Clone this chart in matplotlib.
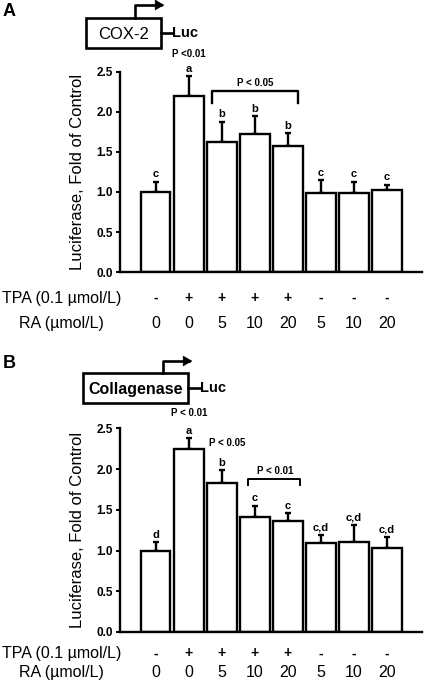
import matplotlib
matplotlib.use("Agg")
import matplotlib.pyplot as plt
import numpy as np
from matplotlib.patches import Rectangle, FancyArrowPatch

plt.rcParams['font.family'] = ['Liberation Sans', 'DejaVu Sans']

tpa_labels = ['-', '+', '+', '+', '+', '-', '-', '-']
ra_labels = ['0', '0', '5', '10', '20', '5', '10', '20']

cox2_values = [1.00, 2.20, 1.63, 1.72, 1.575, 0.99, 0.99, 1.02]
cox2_err = [0.13, 0.25, 0.25, 0.23, 0.16, 0.16, 0.14, 0.07]
cox2_letters = ['c', 'a', 'b', 'b', 'b', 'c', 'c', 'c']

coll_values = [1.00, 2.25, 1.83, 1.41, 1.365, 1.095, 1.11, 1.03]
coll_err = [0.10, 0.13, 0.16, 0.14, 0.095, 0.10, 0.20, 0.135]
coll_letters = ['d', 'a', 'b', 'c', 'c', 'c,d', 'c,d', 'c,d']

W, H = 427, 691
fig = plt.figure(figsize=(W / 100, H / 100), dpi=100)


def fx(px):
    return px / W


def fy(py):
    return 1 - py / H


def panel(rect, values, errs, letters, row1, row2):
    ax = fig.add_axes(rect)
    x = np.arange(len(values))
    ax.bar(x, values, width=0.88, color='white', edgecolor='black', linewidth=1.7, zorder=2)
    ax.errorbar(x, values, yerr=[np.zeros(len(errs)), errs], fmt='none', ecolor='black',
                elinewidth=1.7, capsize=2.2, capthick=1.7, zorder=1)
    ax.set_xlim(-1.09, 8.06)
    ax.set_ylim(0, 2.5)
    ax.set_yticks([0, 0.5, 1.0, 1.5, 2.0, 2.5])
    ax.set_yticklabels(['0.0', '0.5', '1.0', '1.5', '2.0', '2.5'], fontsize=8.5, fontweight='bold')
    ax.set_xticks([])
    for s in ['top', 'right']:
        ax.spines[s].set_visible(False)
    ax.spines['left'].set_linewidth(1.7)
    ax.spines['bottom'].set_linewidth(1.7)
    ax.tick_params(axis='y', direction='out', length=3, width=1.4, pad=2)
    ax.set_ylabel('Luciferase, Fold of Control', fontsize=12, labelpad=8)
    for i, (v, e, l) in enumerate(zip(values, errs, letters)):
        ax.text(i, v + e + 0.03, l, ha='center', va='bottom', fontsize=8, fontweight='bold',
                clip_on=False)
    tr = ax.get_xaxis_transform()
    for i, (t, r) in enumerate(zip(tpa_labels, ra_labels)):
        ax.text(i, row1, t, ha='center', va='center', fontsize=10, fontweight='bold',
                transform=tr, clip_on=False)
        ax.text(i, row2, r, ha='center', va='center', fontsize=11.5,
                transform=tr, clip_on=False)
    ax.text(-2.85, row1, 'TPA (0.1 µmol/L)', ha='center', va='center', fontsize=11.5,
            transform=tr, clip_on=False)
    ax.text(-2.85, row2, 'RA (µmol/L)', ha='center', va='center', fontsize=11.5,
            transform=tr, clip_on=False)
    return ax


axA = panel([fx(120), fy(272), fx(422) - fx(120), fy(72) - fy(272)], cox2_values, cox2_err,
            cox2_letters, -0.13, -0.255)
axB = panel([fx(120), fy(632), fx(422) - fx(120), fy(428.5) - fy(632)], coll_values, coll_err,
            coll_letters, -0.105, -0.2)

# significance annotations A
axA.text(1, 2.73, 'P <0.01', ha='center', va='center', fontsize=7, fontweight='bold', clip_on=False)
axA.plot([1.7, 1.7, 4.3, 4.3], [2.11, 2.26, 2.26, 2.11], color='black', lw=1.7, clip_on=False)
axA.text(3.0, 2.36, 'P < 0.05', ha='center', va='center', fontsize=7, fontweight='bold', clip_on=False)

# significance annotations B
axB.text(1, 2.69, 'P < 0.01', ha='center', va='center', fontsize=7, fontweight='bold', clip_on=False)
axB.text(1.6, 2.32, 'P < 0.05', ha='left', va='center', fontsize=7, fontweight='bold', clip_on=False)
axB.plot([2.79, 2.79, 4.36, 4.36], [1.80, 1.88, 1.88, 1.80], color='black', lw=1.4, clip_on=False)
axB.text(3.6, 1.98, 'P < 0.01', ha='center', va='center', fontsize=7, fontweight='bold', clip_on=False)

# overlay for gene diagrams
ov = fig.add_axes([0, 0, 1, 1], zorder=-1)
ov.set_xlim(0, W)
ov.set_ylim(H, 0)
ov.axis('off')


def gene(x0, x1, y0, y1, ax_x, arrow_top, arrow_end, name, luc_x, bold):
    ov.add_patch(Rectangle((x0, y0), x1 - x0, y1 - y0, fill=False, lw=1.9, ec='black'))
    ov.text((x0 + x1) / 2, (y0 + y1) / 2 + 1, name, ha='center', va='center',
            fontsize=11.5 if bold else 12, fontweight='bold' if bold else 'normal')
    ov.plot([ax_x, ax_x, arrow_end - 6], [y0, arrow_top, arrow_top], color='black', lw=1.9)
    ov.add_patch(FancyArrowPatch((arrow_end - 7, arrow_top), (arrow_end, arrow_top),
                                 arrowstyle='-|>,head_length=6,head_width=3.5', color='black', lw=0.5,
                                 mutation_scale=1))
    ym = (y0 + y1) / 2
    ov.plot([x1, luc_x], [ym, ym], color='black', lw=1.9)
    ov.text(luc_x + 0.5, ym, 'Luc', ha='left', va='center', fontsize=10.5, fontweight='bold')


gene(86, 161, 18, 48, 135, 5, 167, 'COX-2', 172, False)
gene(83, 188, 373, 403, 163, 361, 195, 'Collagenase', 200, True)

fig.text(fx(3), fy(12), 'A', ha='left', va='center', fontsize=13, fontweight='bold')
fig.text(fx(3), fy(363), 'B', ha='left', va='center', fontsize=13, fontweight='bold')

fig.savefig('out.png', dpi=100)
